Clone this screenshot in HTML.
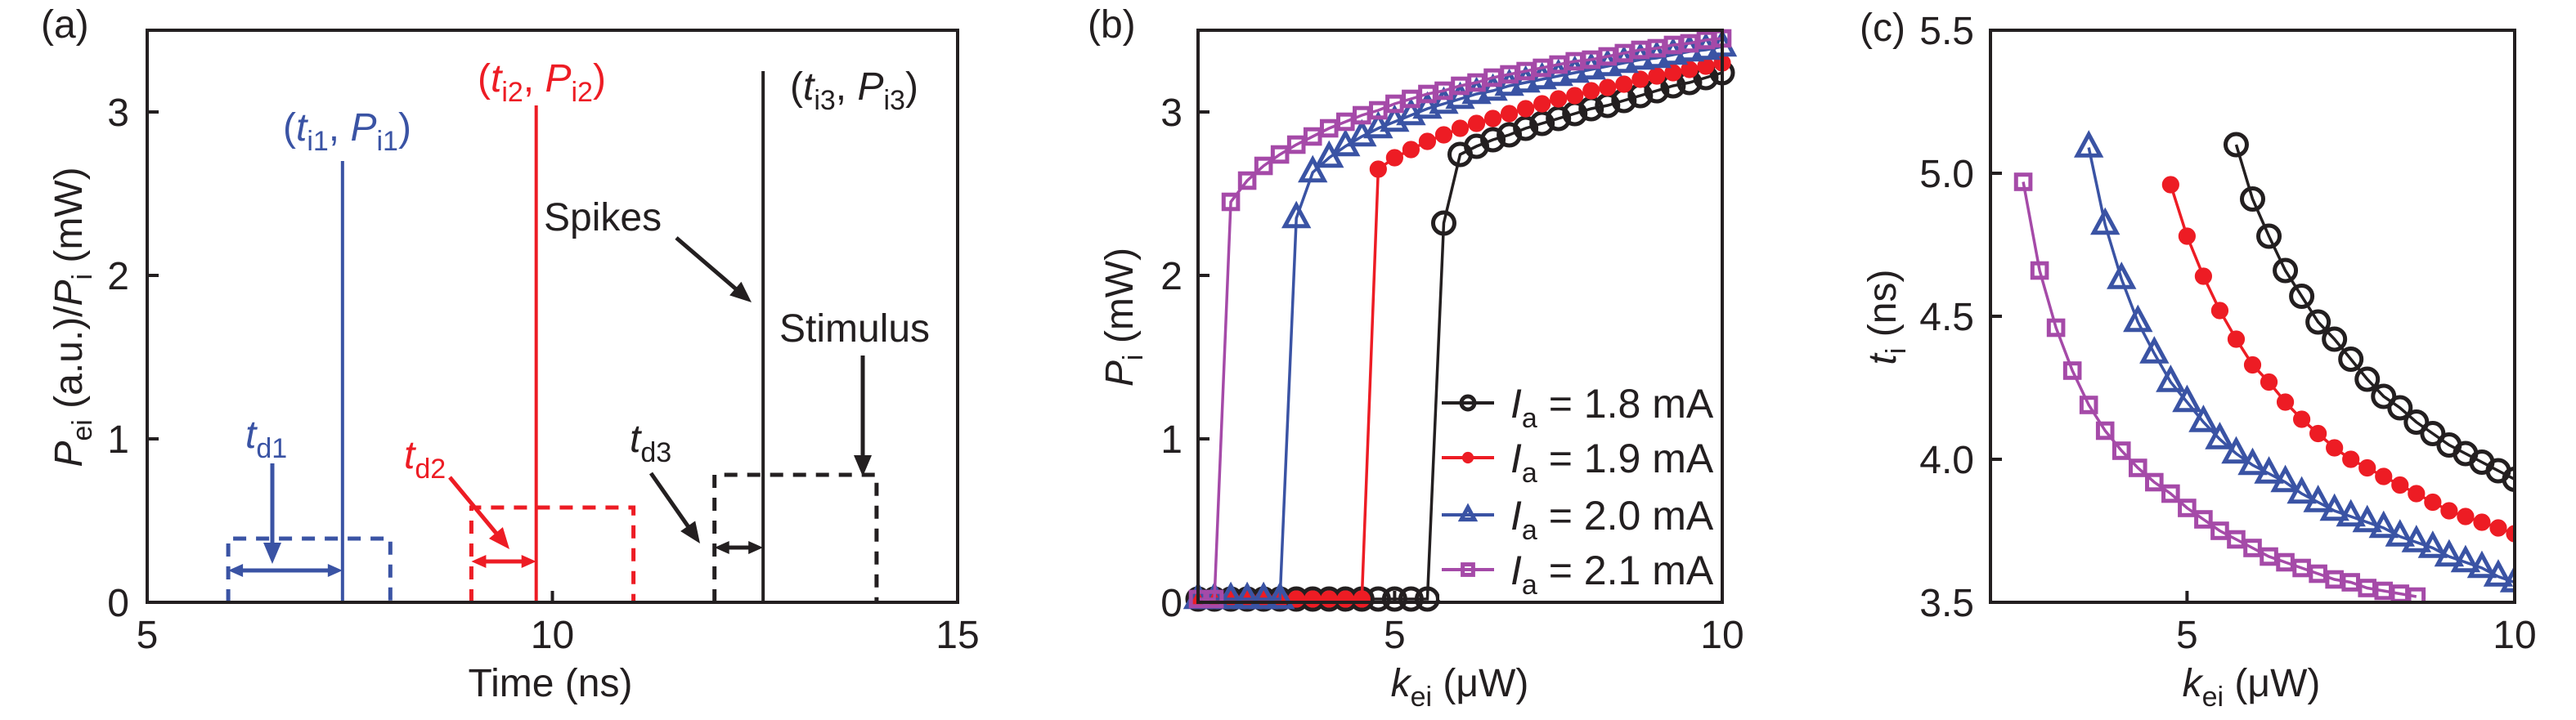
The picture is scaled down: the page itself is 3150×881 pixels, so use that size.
<!DOCTYPE html>
<html><head><meta charset="utf-8"><style>
html,body{margin:0;padding:0;background:#fff;}
svg{display:block;font-family:"Liberation Sans",sans-serif;}
</style></head><body>
<svg id="fig" width="3150" height="881" viewBox="0 0 3150 881" xmlns="http://www.w3.org/2000/svg">
<g id="pa"></g>
<g id="pb"></g>
<g id="pc"></g>
</svg>
<script>
// ---- Panel (a) data ----
const spikeT = [7.41, 9.8, 12.6];
const spikeP = [2.7, 3.04, 3.25];
const stimStart = [6.0, 9.0, 12.0];
const stimEnd = [8.0, 11.0, 14.0];
const stimAmp = [0.39, 0.58, 0.78];
const delayArrowY = [0.195, 0.25, 0.335];
const aXTicks = [5, 10, 15];
const aYTicks = [0, 1, 2, 3];

// ---- Panel (b) data ----
const kB = [2,2.25,2.5,2.75,3,3.25,3.5,3.75,4,4.25,4.5,4.75,5,5.25,5.5,5.75,6,6.25,6.5,6.75,7,7.25,7.5,7.75,8,8.25,8.5,8.75,9,9.25,9.5,9.75,10];
const pB18 = [0.02,0.02,0.02,0.02,0.02,0.02,0.02,0.02,0.02,0.02,0.02,0.02,0.02,0.02,0.02,2.32,2.74,2.79,2.83,2.86,2.90,2.93,2.96,2.99,3.02,3.04,3.07,3.10,3.13,3.16,3.18,3.21,3.24];
const pB19 = [0.02,0.02,0.02,0.02,0.02,0.02,0.02,0.02,0.02,0.02,0.02,2.65,2.72,2.77,2.82,2.86,2.90,2.93,2.96,2.99,3.02,3.05,3.08,3.10,3.13,3.15,3.17,3.20,3.22,3.24,3.26,3.28,3.30];
const pB20 = [0.02,0.02,0.02,0.02,0.02,0.02,2.35,2.63,2.72,2.79,2.85,2.90,2.94,2.98,3.02,3.05,3.08,3.11,3.13,3.16,3.18,3.20,3.22,3.24,3.26,3.28,3.30,3.32,3.33,3.35,3.37,3.38,3.40];
const pB21 = [0.02,0.02,2.45,2.58,2.67,2.74,2.80,2.85,2.90,2.94,2.98,3.01,3.05,3.08,3.11,3.13,3.16,3.18,3.21,3.23,3.25,3.27,3.29,3.31,3.32,3.34,3.36,3.38,3.39,3.41,3.42,3.44,3.45];
const legendLabels = ["1.8", "1.9", "2.0", "2.1"];
const bXTicks = [5, 10];
const bYTicks = [0, 1, 2, 3];

// ---- Panel (c) data ----
const kC18 = [5.75,6,6.25,6.5,6.75,7,7.25,7.5,7.75,8,8.25,8.5,8.75,9,9.25,9.5,9.75,10];
const tC18 = [5.10,4.91,4.78,4.66,4.57,4.48,4.42,4.35,4.28,4.22,4.18,4.13,4.09,4.05,4.02,3.99,3.96,3.93];
const kC19 = [4.75,5,5.25,5.5,5.75,6,6.25,6.5,6.75,7,7.25,7.5,7.75,8,8.25,8.5,8.75,9,9.25,9.5,9.75,10];
const tC19 = [4.96,4.78,4.64,4.52,4.42,4.33,4.27,4.20,4.14,4.09,4.04,4.00,3.97,3.94,3.91,3.88,3.85,3.82,3.80,3.78,3.76,3.74];
const kC20 = [3.5,3.75,4,4.25,4.5,4.75,5,5.25,5.5,5.75,6,6.25,6.5,6.75,7,7.25,7.5,7.75,8,8.25,8.5,8.75,9,9.25,9.5,9.75,10];
const tC20 = [5.09,4.82,4.63,4.48,4.37,4.27,4.20,4.13,4.07,4.02,3.98,3.95,3.92,3.88,3.85,3.82,3.80,3.78,3.76,3.73,3.71,3.69,3.66,3.64,3.62,3.59,3.57];
const kC21 = [2.5,2.75,3,3.25,3.5,3.75,4,4.25,4.5,4.75,5,5.25,5.5,5.75,6,6.25,6.5,6.75,7,7.25,7.5,7.75,8,8.25,8.5];
const tC21 = [4.97,4.66,4.46,4.31,4.19,4.10,4.03,3.97,3.92,3.88,3.83,3.79,3.75,3.72,3.69,3.66,3.64,3.62,3.60,3.58,3.57,3.55,3.54,3.53,3.52];
const cXTicks = [5, 10];
const cYTicks = [3.5, 4.0, 4.5, 5.0, 5.5];

const NS = "http://www.w3.org/2000/svg";
const BLK = "#231f20", RED = "#ed1c24", BLU = "#3a53a4", PUR = "#a54aa8";
function mk(parent, tag, attrs, txt) {
  const e = document.createElementNS(NS, tag);
  for (const k in attrs) e.setAttribute(k, attrs[k]);
  if (txt !== undefined) e.textContent = txt;
  parent.appendChild(e);
  return e;
}
function lin(d0, d1, r0, r1) { return v => r0 + (v - d0) * (r1 - r0) / (d1 - d0); }
function arrowHead(g, x1, y1, x2, y2, col, len, w) {
  const a = Math.atan2(y2 - y1, x2 - x1);
  const bx = x2 - len * Math.cos(a), by = y2 - len * Math.sin(a);
  const px = -Math.sin(a) * w, py = Math.cos(a) * w;
  return mk(g, "polygon", {points: `${x2},${y2} ${bx+px},${by+py} ${bx-px},${by-py}`, fill: col});
}
function arrow(g, x1, y1, x2, y2, col, name) {
  const gg = mk(g, "g", {});
  
  
  const a = Math.atan2(y2 - y1, x2 - x1);
  mk(gg, "line", {x1, y1, x2: x2 - 20 * Math.cos(a), y2: y2 - 20 * Math.sin(a), stroke: col, "stroke-width": 5});
  arrowHead(gg, x1, y1, x2, y2, col, 26, 11);
  return gg;
}
function dblArrow(g, x1, x2, y, col, name) {
  const gg = mk(g, "g", {});
  
  
  mk(gg, "line", {x1: x1 + 14, y1: y, x2: x2 - 14, y2: y, stroke: col, "stroke-width": 5});
  arrowHead(gg, x2, y, x1, y, col, 18, 8);
  arrowHead(gg, x1, y, x2, y, col, 18, 8);
}
function frame(g, L, T, R, B) {
  const f = mk(g, "rect", {x: L, y: T, width: R - L, height: B - T, fill: "none", stroke: BLK, "stroke-width": 4});
  
  
}
function marker(g, type, x, y, col, s) {
  let e;
  if (type === "circle") e = mk(g, "circle", {cx: x, cy: y, r: s, fill: "none", stroke: col, "stroke-width": 5});
  else if (type === "tri") e = mk(g, "polygon", {points: `${x},${y - s * 1.15} ${x - s},${y + s * 0.7} ${x + s},${y + s * 0.7}`, fill: "none", stroke: col, "stroke-width": 5});
  else if (type === "sq") e = mk(g, "rect", {x: x - s * 0.8, y: y - s * 0.8, width: s * 1.6, height: s * 1.6, fill: "none", stroke: col, "stroke-width": 5});
  else e = mk(g, "circle", {cx: x, cy: y, r: s * 0.7, fill: col, stroke: col, "stroke-width": 3});
  return e;
}
function series(g, xs, ys, X, Y, col, type, size, name) {
  const sg = mk(g, "g", {});
  
  
  const pts = xs.map((k, i) => `${X(k)},${Y(ys[i])}`).join(" ");
  mk(sg, "polyline", {points: pts, fill: "none", stroke: col, "stroke-width": 3.5});
  xs.forEach((k, i) => {
    const m = marker(sg, type, X(k), Y(ys[i]), col, size);
    
    
  });
}
function ticksX(g, ticks, X, B, fmt, name) {
  ticks.forEach(t => {
    mk(g, "line", {x1: X(t), y1: B, x2: X(t), y2: B - 14, stroke: BLK, "stroke-width": 4});
    const e = mk(g, "text", {x: X(t), y: 793, "text-anchor": "middle", "font-size": 48, fill: BLK}, fmt(t));
    
    
  });
}
function ticksY(g, ticks, Y, L, xr, fmt, name) {
  ticks.forEach(t => {
    mk(g, "line", {x1: L, y1: Y(t), x2: L + 14, y2: Y(t), stroke: BLK, "stroke-width": 4});
    const e = mk(g, "text", {x: xr, y: Y(t) + 17, "text-anchor": "end", "font-size": 48, fill: BLK}, fmt(t));
    
    
  });
}
function richText(g, x, y, parts, attrs, name) {
  const t = mk(g, "text", Object.assign({x, y, "font-size": 48}, attrs));
  
  
  parts.forEach(p => {
    mk(t, "tspan", p.attrs || {}, p.t);
  });
  return t;
}

// ================= Panel A =================
(function () {
  const g = document.getElementById("pa");
  const L = 180, R = 1171, T = 37, B = 737;
  const X = lin(5, 15, L, R), Y = lin(0, 3, B, 137);
  const cols = [BLU, RED, BLK];
  const lab = mk(g, "text", {x: 50, y: 46, "font-size": 48, fill: BLK}, "(a)");
  
  
  stimStart.forEach((s, i) => {
    const p = mk(g, "polyline", {points: `${X(s)},${B} ${X(s)},${Y(stimAmp[i])} ${X(stimEnd[i])},${Y(stimAmp[i])} ${X(stimEnd[i])},${B}`,
      fill: "none", stroke: cols[i], "stroke-width": 5, "stroke-dasharray": "16,12"});
    
    
  });
  spikeT.forEach((t, i) => {
    const l = mk(g, "line", {x1: X(t), y1: B, x2: X(t), y2: Y(spikeP[i]), stroke: cols[i], "stroke-width": 4});
    
    
  });
  stimStart.forEach((s, i) => dblArrow(g, X(s), X(spikeT[i]), Y(delayArrowY[i]), cols[i], 'delay-arrow-' + (i + 1)));
  frame(g, L, T, R, B);
  ticksX(g, aXTicks, X, B, v => String(v), 'x-tick-label');
  ticksY(g, aYTicks, Y, L, 158, v => String(v), 'y-tick-label');
  arrow(g, 333, 567, 333, 690, BLU, 'td1-arrow');
  arrow(g, 550, 584, 623, 672, RED, 'td2-arrow');
  arrow(g, 796, 579, 856, 665, BLK, 'td3-arrow');
  arrow(g, 827, 291, 919, 370, BLK, 'spikes-arrow');
  arrow(g, 1055, 435, 1055, 583, BLK, 'stimulus-arrow');
  const it = {"font-style": "italic"}, sub = {"font-size": 34, dy: 12}, up = {dy: -12};
  richText(g, 300, 548, [{t: "t", attrs: it}, {t: "d1", attrs: sub}], {fill: BLU}, 'td1-label');
  richText(g, 494, 573, [{t: "t", attrs: it}, {t: "d2", attrs: sub}], {fill: RED}, 'td2-label');
  richText(g, 770, 553, [{t: "t", attrs: it}, {t: "d3", attrs: sub}], {fill: BLK}, 'td3-label');
  richText(g, 346, 172, [{t: "("}, {t: "t", attrs: it}, {t: "i1", attrs: sub}, {t: ", ", attrs: up}, {t: "P", attrs: it}, {t: "i1", attrs: sub}, {t: ")", attrs: up}], {fill: BLU}, 'spike1-label');
  richText(g, 584, 112, [{t: "("}, {t: "t", attrs: it}, {t: "i2", attrs: sub}, {t: ", ", attrs: up}, {t: "P", attrs: it}, {t: "i2", attrs: sub}, {t: ")", attrs: up}], {fill: RED}, 'spike2-label');
  richText(g, 966, 122, [{t: "("}, {t: "t", attrs: it}, {t: "i3", attrs: sub}, {t: ", ", attrs: up}, {t: "P", attrs: it}, {t: "i3", attrs: sub}, {t: ")", attrs: up}], {fill: BLK}, 'spike3-label');
  richText(g, 665, 282, [{t: "Spikes"}], {fill: BLK}, 'spikes-label');
  richText(g, 953, 418, [{t: "Stimulus"}], {fill: BLK}, 'stimulus-label');
  richText(g, 673, 852, [{t: "Time (ns)"}], {fill: BLK, "text-anchor": "middle"}, 'x-axis-title');
  richText(g, 0, 0, [{t: "P", attrs: it}, {t: "ei", attrs: sub}, {t: " (a.u.)/", attrs: up}, {t: "P", attrs: it}, {t: "i", attrs: sub}, {t: " (mW)", attrs: up}],
    {fill: BLK, "text-anchor": "middle", transform: "translate(100,388) rotate(-90)"}, 'y-axis-title');
})();

// ================= Panel B =================
(function () {
  const g = document.getElementById("pb");
  const L = 1465, R = 2106, T = 37, B = 737;
  const X = lin(2, 10, L, R), Y = lin(0, 3, B, 137);
  const lab = mk(g, "text", {x: 1330, y: 46, "font-size": 48, fill: BLK}, "(b)");
  
  
  series(g, kB, pB18, X, Y, BLK, "circle", 13, 'series-1.8mA');
  series(g, kB, pB19, X, Y, RED, "dot", 13, 'series-1.9mA');
  series(g, kB, pB20, X, Y, BLU, "tri", 14, 'series-2.0mA');
  series(g, kB, pB21, X, Y, PUR, "sq", 11, 'series-2.1mA');
  mk(g, "rect", {x: 1760, y: 460, width: 344, height: 274, fill: "#fff"});
  frame(g, L, T, R, B);
  ticksX(g, bXTicks, X, B, v => String(v), 'x-tick-label');
  ticksY(g, bYTicks, Y, L, 1446, v => String(v), 'y-tick-label');
  const cols = [BLK, RED, BLU, PUR], types = ["circle", "dot", "tri", "sq"], rows = [493, 560, 630, 697];
  legendLabels.forEach((lb, i) => {
    const lg = mk(g, "g", {});
    
    
    mk(lg, "line", {x1: 1763, y1: rows[i], x2: 1827, y2: rows[i], stroke: cols[i], "stroke-width": 4});
    marker(lg, types[i], 1795, rows[i], cols[i], 8);
    const t = mk(lg, "text", {x: 1847, y: rows[i] + 18, "font-size": 50, fill: BLK});
    mk(t, "tspan", {"font-style": "italic"}, "I");
    mk(t, "tspan", {"font-size": 34, dy: 12}, "a");
    mk(t, "tspan", {dy: -12}, " = " + lb + " mA");
  });
  const it = {"font-style": "italic"}, sub = {"font-size": 34, dy: 12}, up = {dy: -12};
  richText(g, 1785, 852, [{t: "k", attrs: it}, {t: "ei", attrs: sub}, {t: " (μW)", attrs: up}], {fill: BLK, "text-anchor": "middle"}, 'x-axis-title');
  richText(g, 0, 0, [{t: "P", attrs: it}, {t: "i", attrs: sub}, {t: " (mW)", attrs: up}], {fill: BLK, "text-anchor": "middle", transform: "translate(1385,388) rotate(-90)"}, 'y-axis-title');
})();

// ================= Panel C =================
(function () {
  const g = document.getElementById("pc");
  const L = 2434, R = 3075, T = 37, B = 737;
  const X = lin(2, 10, L, R), Y = lin(3.5, 5.5, B, T);
  const lab = mk(g, "text", {x: 2274, y: 50, "font-size": 48, fill: BLK}, "(c)");
  
  
  const cg = mk(g, "g", {});
  
  
  series(cg, kC18, tC18, X, Y, BLK, "circle", 13, 'series-1.8mA');
  series(cg, kC19, tC19, X, Y, RED, "dot", 13, 'series-1.9mA');
  series(cg, kC20, tC20, X, Y, BLU, "tri", 14, 'series-2.0mA');
  series(cg, kC21, tC21, X, Y, PUR, "sq", 11, 'series-2.1mA');
  mk(g, "rect", {x: L - 30, y: B + 2, width: R - L + 60, height: 30, fill: "#fff"});
  mk(g, "rect", {x: R + 2, y: T, width: 40, height: B - T, fill: "#fff"});
  frame(g, L, T, R, B);
  ticksX(g, cXTicks, X, B, v => String(v), 'x-tick-label');
  ticksY(g, cYTicks, Y, L, 2414, v => v.toFixed(1), 'y-tick-label');
  const it = {"font-style": "italic"}, sub = {"font-size": 34, dy: 12}, up = {dy: -12};
  richText(g, 2753, 852, [{t: "k", attrs: it}, {t: "ei", attrs: sub}, {t: " (μW)", attrs: up}], {fill: BLK, "text-anchor": "middle"}, 'x-axis-title');
  richText(g, 0, 0, [{t: "t", attrs: it}, {t: "i", attrs: sub}, {t: " (ns)", attrs: up}], {fill: BLK, "text-anchor": "middle", transform: "translate(2318,388) rotate(-90)"}, 'y-axis-title');
})();
</script>
</body></html>
